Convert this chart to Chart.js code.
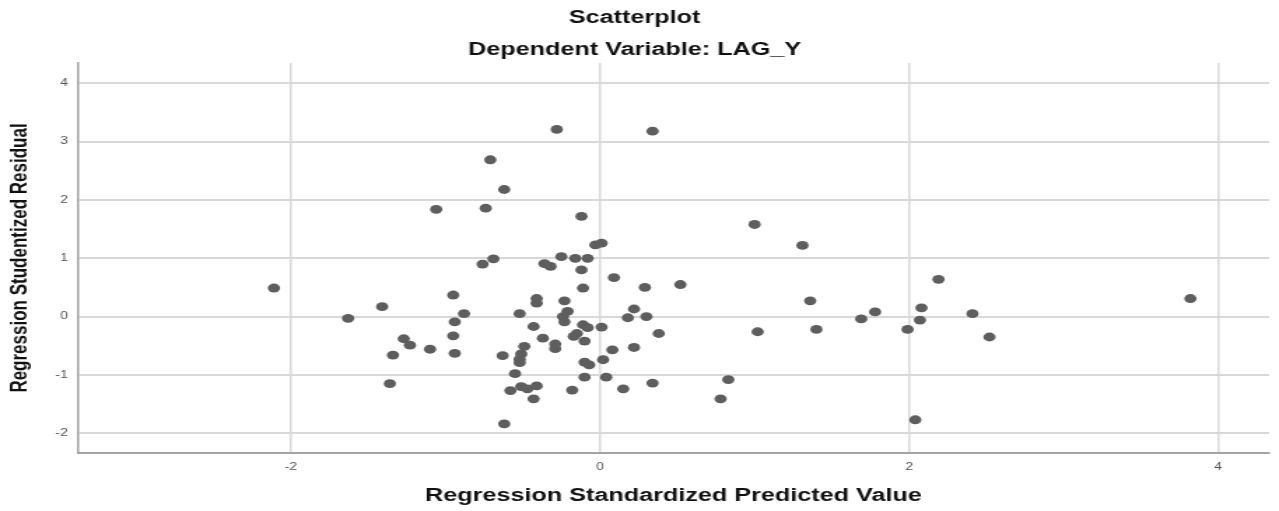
<!DOCTYPE html>
<html>
<head>
<meta charset="utf-8">
<title>Scatterplot</title>
<script src="https://cdn.jsdelivr.net/npm/chart.js@4"></script>
<style>
    body { margin: 0; background: #fff; }
</style>
</head>
<body>
<!-- the chart is drawn narrower and stretched sideways, like the original picture -->
<canvas id="chart1" width="914" height="511" style="display:block;width:1279px;height:511px"></canvas>
<script>
// Regression Standardized Predicted Value (x) and Studentized Residual (y), one entry per case
const predicted = [
    -2.11, -1.63, -1.41, -1.34, -1.36, -1.27, -1.23, -1.10, -0.95, -0.88,
    -0.94, -0.95, -0.94, -1.06, -0.74, -0.71, -0.62, -0.76, -0.69, -0.63,
    -0.62, -0.58, -0.55, -0.52, -0.49, -0.51, -0.52, -0.52, -0.51, -0.47,
    -0.41, -0.43, -0.43, -0.41, -0.41, -0.37, -0.36, -0.32, -0.29, -0.29,
    -0.28, -0.25, -0.23, -0.21, -0.24, -0.23, -0.18, -0.16, -0.12, -0.08,
    -0.12, -0.11, -0.11, -0.08, -0.15, -0.17, -0.10, -0.10, -0.07, -0.10,
    -0.03, 0.01, 0.01, 0.02, 0.04, 0.09, 0.08, 0.15, 0.18, 0.22,
    0.22, 0.29, 0.30, 0.38, 0.34, 0.34, 0.52, 0.78, 0.83, 1.00,
    1.02, 1.31, 1.36, 1.40, 1.69, 1.78, 1.99, 2.07, 2.08, 2.19,
    2.04, 2.41, 2.52, 3.82
];
const residual = [
    0.49, -0.03, 0.17, -0.66, -1.15, -0.38, -0.49, -0.56, 0.37, 0.05,
    -0.09, -0.33, -0.63, 1.84, 1.86, 2.69, 2.18, 0.90, 0.99, -0.67,
    -1.84, -1.27, -0.98, 0.05, -0.51, -0.64, -0.73, -0.79, -1.20, -1.24,
    -1.19, -1.41, -0.17, 0.31, 0.23, -0.37, 0.91, 0.86, -0.47, -0.55,
    3.21, 1.03, 0.27, 0.09, 0.00, -0.09, -1.26, 1.00, 0.80, 1.00,
    1.72, 0.49, -0.14, -0.19, -0.29, -0.34, -0.42, -0.78, -0.83, -1.04,
    1.23, 1.26, -0.18, -0.74, -1.04, 0.67, -0.57, -1.24, -0.02, 0.13,
    -0.53, 0.50, 0.00, -0.29, -1.14, 3.18, 0.55, -1.41, -1.08, 1.58,
    -0.26, 1.22, 0.27, -0.22, -0.04, 0.08, -0.22, -0.06, 0.15, 0.64,
    -1.77, 0.05, -0.35, 0.31
];

// tick labels of both axes
const xTicks = [-2, 0, 2, 4];
const yTicks = [-2, -1, 0, 1, 2, 3, 4];

const fontFamily = '"Liberation Sans", Arial, sans-serif';

function createScatter(chartId) {
    const ctx = document.getElementById(chartId).getContext('2d');
    const points = predicted.map((x, i) => ({ x: x, y: residual[i] }));

    new Chart(ctx, {
        type: 'scatter',
        data: {
            datasets: [{
                data: points,
                backgroundColor: '#5e5e5e',
                borderWidth: 0,
                pointRadius: 4.4,
                pointHoverRadius: 4.4
            }]
        },
        options: {
            responsive: false,
            devicePixelRatio: 1,
            animation: false,
            events: [],
            layout: { padding: { left: 0, right: 7, top: 0, bottom: 0 } },
            plugins: {
                legend: { display: false },
                tooltip: { enabled: false },
                title: {
                    display: true,
                    text: 'Scatterplot',
                    color: '#111',
                    font: { family: fontFamily, size: 18, weight: 'bold' },
                    padding: { top: 7.2, bottom: 0 }
                },
                subtitle: {
                    display: true,
                    text: 'Dependent Variable: LAG_Y',
                    color: '#111',
                    font: { family: fontFamily, size: 18, weight: 'bold' },
                    padding: { top: 10.4, bottom: 2.2 }
                }
            },
            scales: {
                x: {
                    type: 'linear',
                    min: -3.38,
                    max: 4.33,
                    afterBuildTicks: (scale) => { scale.ticks = xTicks.map(v => ({ value: v })); },
                    afterFit: (scale) => { scale.height = 58; },
                    grid: { color: '#d8d8d8', lineWidth: 1.5, drawTicks: false },
                    border: { display: true, color: '#a3a3a3', width: 2 },
                    ticks: {
                        color: '#555',
                        padding: 8.5,
                        font: { family: fontFamily, size: 10 }
                    },
                    title: {
                        display: true,
                        text: 'Regression Standardized Predicted Value',
                        color: '#111',
                        font: { family: fontFamily, size: 18, weight: 'bold' },
                        padding: { top: 0, bottom: 3.7 }
                    }
                },
                y: {
                    type: 'linear',
                    min: -2.34,
                    max: 4.35,
                    afterBuildTicks: (scale) => { scale.ticks = yTicks.map(v => ({ value: v })); },
                    afterFit: (scale) => { scale.width = 55.5; },
                    grid: { color: '#d8d8d8', lineWidth: 2, drawTicks: false },
                    border: { display: true, color: '#a3a3a3', width: 1.5 },
                    ticks: {
                        color: '#555',
                        padding: 7,
                        font: { family: fontFamily, size: 10 }
                    },
                    title: {
                        display: true,
                        text: 'Regression Studentized Residual',
                        color: '#111',
                        font: { family: fontFamily, size: 17, weight: 'bold' },
                        padding: { top: 3.7, bottom: 0 }
                    }
                }
            }
        }
    });
}

window.onload = function () {
    createScatter('chart1');
};
</script>
</body>
</html>
